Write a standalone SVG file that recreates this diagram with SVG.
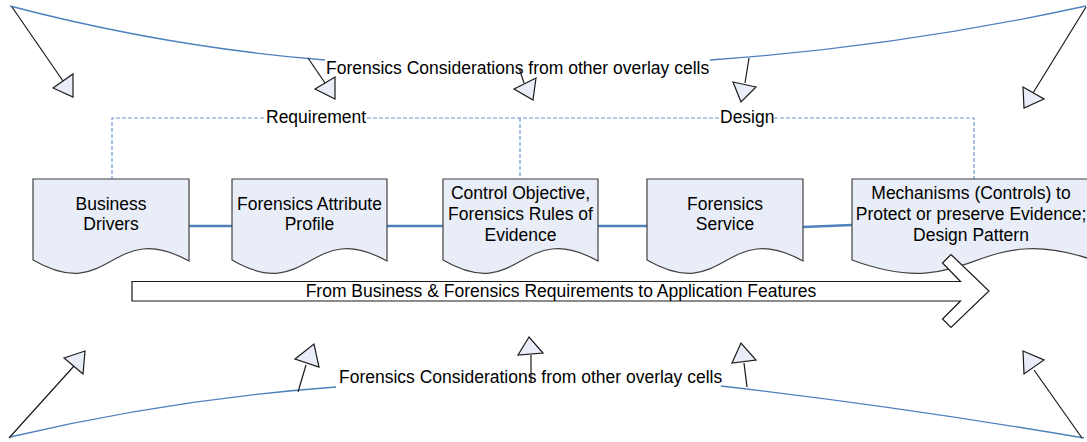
<svg xmlns="http://www.w3.org/2000/svg" width="1087" height="442" viewBox="0 0 1087 442">
<style>
text{font-family:"Liberation Sans",Arial,sans-serif;font-size:17.5px;fill:#000}
.c{text-anchor:middle}
.doc{fill:#E8EDF7;stroke:#404040;stroke-width:1.2}
.tri{fill:#E8EDF7;stroke:#1a1a1a;stroke-width:1.2}
.blk{stroke:#1a1a1a;stroke-width:1.2;fill:none}
.blue{stroke:#4F81BD;stroke-width:1.3;fill:none}
.dash{stroke:#6C96D2;stroke-width:1.2;fill:none;stroke-dasharray:4 2}
.conn{stroke:#4F81BD;stroke-width:2.6;fill:none}
</style>
<rect width="1087" height="442" fill="#fff"/>
<g id="overlay-top">
<path class="blue" d="M10,6 Q166,47 325,60"/>
<path class="blue" d="M710,60 Q898,47 1086,6"/>
<text x="326" y="74">Forensics Considerations from other overlay cells</text>
<line class="blk" x1="12" y1="7" x2="63" y2="81"/>
<polygon class="tri" points="53,88 73,74 73,97"/>
<line class="blk" x1="308" y1="58" x2="325" y2="83"/>
<polygon class="tri" points="315,89 335,77 335,99"/>
<line class="blk" x1="519" y1="68" x2="524" y2="83"/>
<polygon class="tri" points="514,89 536,78 533,100"/>
<line class="blk" x1="749" y1="58" x2="745" y2="83"/>
<polygon class="tri" points="733,82 756,87 741,102"/>
<line class="blk" x1="1086" y1="7" x2="1033" y2="93"/>
<polygon class="tri" points="1023,87 1044,99 1024,108"/>
</g>
<g id="overlay-bottom">
<path class="blue" d="M10,437 Q173,399 336,387"/>
<path class="blue" d="M721,386 Q902,407 1084,438"/>
<text x="339" y="383">Forensics Considerations from other overlay cells</text>
<line class="blk" x1="9" y1="438" x2="74" y2="366"/>
<polygon class="tri" points="64,358 85,351 83,374"/>
<line class="blk" x1="298" y1="392" x2="306" y2="365"/>
<polygon class="tri" points="295,359 314,344 319,367"/>
<line class="blk" x1="531" y1="382" x2="531" y2="355"/>
<polygon class="tri" points="518,355 529,337 543,353"/>
<line class="blk" x1="747" y1="387" x2="744" y2="363"/>
<polygon class="tri" points="732,363 741,343 756,360"/>
<line class="blk" x1="1082" y1="438" x2="1034" y2="370"/>
<polygon class="tri" points="1023,351 1044,360 1024,374"/>
</g>
<g id="phases">
<path class="dash" d="M112,180 V118 H265"/>
<path class="dash" d="M367,118 H720"/>
<path class="dash" d="M520,118 V180"/>
<path class="dash" d="M774,118 H974 V180"/>
<text x="266" y="123">Requirement</text>
<text x="720" y="123">Design</text>
</g>
<g id="connectors">
<line class="conn" x1="189" y1="226" x2="232" y2="226"/>
<line class="conn" x1="387" y1="226" x2="443" y2="226"/>
<line class="conn" x1="598" y1="226" x2="647" y2="226"/>
<line class="conn" x1="803" y1="227" x2="852" y2="225"/>
</g>
<g id="business-drivers">
<path class="doc" d="M33,179 H189 V261 C111,218 111,305 33,260 Z"/>
<text class="c" x="111" y="210">Business</text>
<text class="c" x="111" y="230">Drivers</text>
</g>
<g id="forensics-attribute-profile">
<path class="doc" d="M232,179 H387 V261 C309.5,218 309.5,305 232,260 Z"/>
<text class="c" x="309.5" y="210">Forensics Attribute</text>
<text class="c" x="309.5" y="230">Profile</text>
</g>
<g id="control-objective">
<path class="doc" d="M443,179 H598 V261 C520.5,218 520.5,305 443,260 Z"/>
<text class="c" x="520.5" y="199">Control Objective,</text>
<text class="c" x="520.5" y="220">Forensics Rules of</text>
<text class="c" x="520.5" y="241">Evidence</text>
</g>
<g id="forensics-service">
<path class="doc" d="M647,179 H803 V261 C725,218 725,305 647,260 Z"/>
<text class="c" x="725" y="210">Forensics</text>
<text class="c" x="725" y="230">Service</text>
</g>
<g id="mechanisms">
<path class="doc" d="M852,179 H1096 V261 C974,218 974,305 852,260 Z"/>
<text class="c" x="971" y="199">Mechanisms (Controls) to</text>
<text class="c" x="971" y="220">Protect or preserve Evidence;</text>
<text class="c" x="971" y="241">Design Pattern</text>
</g>
<g id="flow-arrow">
<polygon points="132,281.5 960.5,281.5 942.5,263 951,254.5 989,291 951,327.5 942.5,319 960.5,301 132,301" fill="#fff" stroke="#1a1a1a" stroke-width="1.2"/>
<text class="c" x="561" y="297">From Business &amp; Forensics Requirements to Application Features</text>
</g>
</svg>
